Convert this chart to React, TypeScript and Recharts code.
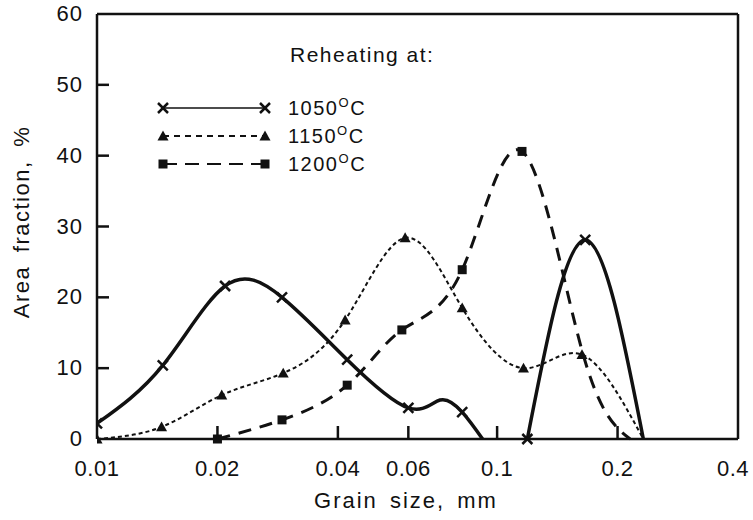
import React from "react";
import { LineChart, Line, XAxis, YAxis, ReferenceLine } from "recharts";

// grain size (mm) / area fraction (%)
const sizes1050 = [0.01, 0.0146, 0.0209, 0.029, 0.0422, 0.06, 0.072, 0.0818, 0.092, 0.105, 0.119, 0.166, 0.232];
const frac1050 = [2.2, 10.4, 21.6, 20.0, 11.2, 4.4, 5.5, 3.8, 0, null, 0, 28.1, 0];
const marked1050 = [1, 1, 1, 1, 1, 1, 0, 1, 0, 0, 1, 1, 0];

const sizes1150 = [0.01, 0.0145, 0.0205, 0.0292, 0.0417, 0.0589, 0.0818, 0.1164, 0.163, 0.232];
const frac1150 = [0, 1.7, 6.2, 9.3, 16.8, 28.4, 18.5, 10, 11.9, 0];
const marked1150 = [1, 1, 1, 1, 1, 1, 1, 1, 1, 0];

const sizes1200 = [0.02, 0.029, 0.0422, 0.0578, 0.0818, 0.1154, 0.163, 0.215];
const frac1200 = [0, 2.7, 7.6, 15.4, 23.9, 40.6, 12.5, 0];
const marked1200 = [1, 1, 1, 1, 1, 1, 0, 0];

const xTicks = [0.01, 0.02, 0.04, 0.06, 0.1, 0.2, 0.4];
const yTicks = [0, 10, 20, 30, 40, 50, 60];

const FONT = '"Liberation Sans", Arial, sans-serif';
const INK = "#111";

const toRows = (xs: number[], ys: (number | null)[]) =>
  xs.map((x, i) => ({ x, y: ys[i] }));

type Shape = "cross" | "triangle" | "square";

function Marker({ cx, cy, shape }: { cx: number; cy: number; shape: Shape }) {
  if (shape === "cross") {
    const s = 5;
    return (
      <g stroke={INK} strokeWidth={2.5}>
        <line x1={cx - s} y1={cy - s} x2={cx + s} y2={cy + s} />
        <line x1={cx - s} y1={cy + s} x2={cx + s} y2={cy - s} />
      </g>
    );
  }
  if (shape === "triangle") {
    const s = 5.5;
    return <polygon points={`${cx},${cy - s} ${cx + s},${cy + s * 0.8} ${cx - s},${cy + s * 0.8}`} fill={INK} />;
  }
  return <rect x={cx - 4.5} y={cy - 4.5} width={9} height={9} fill={INK} />;
}

const makeDot = (shape: Shape, marked: number[]) => (p: any) => {
  const key = `${shape}-${p.index}`;
  if (p.cy == null || p.value == null || !marked[p.index]) return <g key={key} />;
  return (
    <g key={key}>
      <Marker cx={p.cx} cy={p.cy} shape={shape} />
    </g>
  );
};

const YTick = (props: any) => {
  const { x, y, payload } = props;
  const v = payload.value;
  return (
    <g>
      <text x={x} y={y} dy={7} textAnchor="end" fontFamily={FONT} fontSize={22} letterSpacing={1} fill={INK}>
        {v}
      </text>
      {v > 0 && v < 60 && <line x1={x + 14} x2={x + 26} y1={y} y2={y} stroke={INK} strokeWidth={2.5} />}
    </g>
  );
};

const XTick = (props: any) => {
  const { x, y, payload } = props;
  const v = payload.value;
  const inner = v > 0.01 && v < 0.4;
  return (
    <g>
      <text x={v === 0.4 ? x - 5 : x} y={y} dy={37} textAnchor="middle" fontFamily={FONT} fontSize={22} letterSpacing={0.5} fill={INK}>
        {String(v)}
      </text>
      {inner && <line x1={x} x2={x} y1={y} y2={y - 13} stroke={INK} strokeWidth={2.5} />}
    </g>
  );
};

function LegendRow({ y, shape, dash, label }: { y: number; shape: Shape; dash?: string; label: string }) {
  return (
    <g>
      <line x1={163} x2={265} y1={y} y2={y} stroke={INK} strokeWidth={shape === "cross" ? 1.6 : 2.2} strokeDasharray={dash} />
      <Marker cx={163} cy={y} shape={shape} />
      <Marker cx={265} cy={y} shape={shape} />
      <text x={288} y={y + 7} fontFamily={FONT} fontSize={20} letterSpacing={1.5} fill={INK}>
        {label}
        <tspan fontSize={13} dy={-8}>O</tspan>
        <tspan dy={8}>C</tspan>
      </text>
    </g>
  );
}

export default function App() {
  return (
    <div style={{ position: "relative", width: 753, height: 520, background: "#fff" }}>
      <style>{`body{margin:0}`}</style>
      <LineChart width={753} height={520} margin={{ top: 14, right: 15, bottom: 21, left: 17 }}>
        <XAxis
          dataKey="x"
          type="number"
          scale="log"
          domain={[0.01, 0.4]}
          ticks={xTicks}
          allowDataOverflow
          height={60}
          tickSize={0}
          tickMargin={0}
          tickLine={false}
          axisLine={{ stroke: INK, strokeWidth: 2.5 }}
          tick={<XTick />}
        />
        <YAxis
          dataKey="y"
          type="number"
          domain={[0, 60]}
          ticks={yTicks}
          width={80}
          tickSize={0}
          tickMargin={14}
          tickLine={false}
          axisLine={{ stroke: INK, strokeWidth: 2.5 }}
          tick={<YTick />}
        />
        <ReferenceLine y={60} stroke={INK} strokeWidth={2.5} />
        <ReferenceLine x={0.4} stroke={INK} strokeWidth={2.5} />
        <Line
          data={toRows(sizes1150, frac1150)}
          dataKey="y"
          type="natural"
          stroke={INK}
          strokeWidth={2}
          strokeDasharray="4 3"
          dot={makeDot("triangle", marked1150)}
          isAnimationActive={false}
        />
        <Line
          data={toRows(sizes1200, frac1200)}
          dataKey="y"
          type="natural"
          stroke={INK}
          strokeWidth={3}
          strokeDasharray="13 9"
          dot={makeDot("square", marked1200)}
          isAnimationActive={false}
        />
        <Line
          data={toRows(sizes1050, frac1050)}
          dataKey="y"
          type="natural"
          stroke={INK}
          strokeWidth={3.5}
          connectNulls={false}
          dot={makeDot("cross", marked1050)}
          isAnimationActive={false}
        />
      </LineChart>
      <svg width={753} height={520} style={{ position: "absolute", left: 0, top: 0, pointerEvents: "none" }}>
        <text x={290} y={62} fontFamily={FONT} fontSize={21} letterSpacing={1.5} fill={INK}>
          Reheating at:
        </text>
        <LegendRow y={108} shape="cross" label="1050" />
        <LegendRow y={136} shape="triangle" dash="6 5" label="1150" />
        <LegendRow y={164} shape="square" dash="14 8" label="1200" />
        <text
          x={406}
          y={508}
          textAnchor="middle"
          fontFamily={FONT}
          fontSize={22}
          letterSpacing={2}
          wordSpacing={4}
          fill={INK}
        >
          Grain size, mm
        </text>
        <text
          transform="translate(29,222) rotate(-90)"
          textAnchor="middle"
          fontFamily={FONT}
          fontSize={22}
          letterSpacing={1.5}
          wordSpacing={6}
          fill={INK}
        >
          Area fraction, %
        </text>
      </svg>
    </div>
  );
}
